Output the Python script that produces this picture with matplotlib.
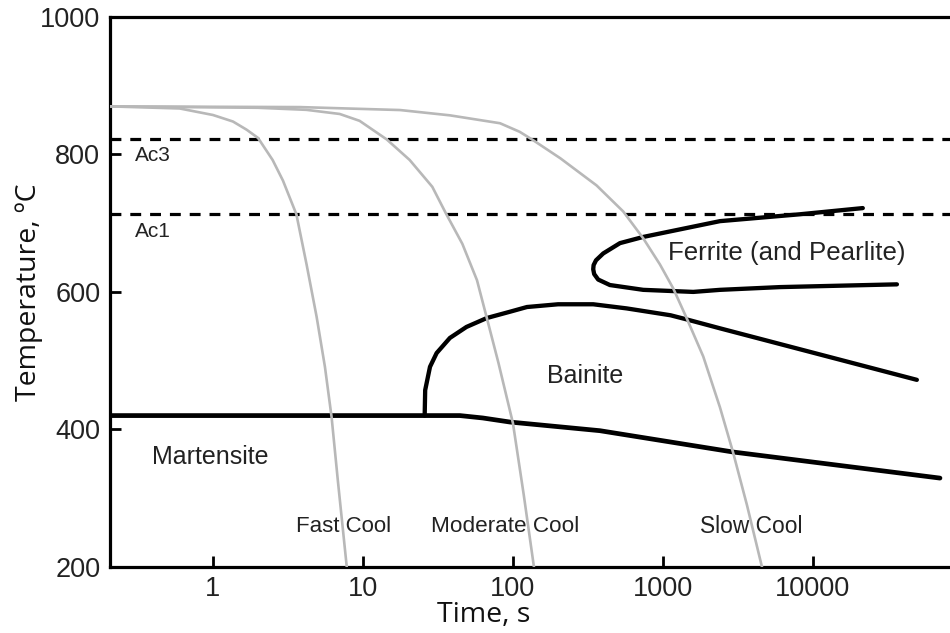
import matplotlib
matplotlib.use("Agg")
import matplotlib.pyplot as plt

# critical temperatures
ac3 = 822
ac1 = 713

# martensite start line + lower bainite boundary (time s, temperature C)
ms_t = [0.206, 25.9, 44.3, 63, 95.5, 380, 2930, 70300]
ms_T = [420, 420, 420, 416.5, 410.6, 398, 367, 329]

# bainite nose (upper boundary)
bain_t = [25.8, 26.0, 28, 31, 38, 49, 67, 95, 124, 200, 343, 573, 1124, 1438, 2400, 49300]
bain_T = [420, 457, 491, 511, 533, 549, 562, 571, 578, 582, 582, 576, 566, 560, 547, 472]

# ferrite / pearlite C-curve
fer_t = [21500, 8200, 2400, 1593, 739, 517, 400, 358, 345, 343, 348, 370, 443, 739, 1593, 2400, 6030, 36300]
fer_T = [722, 713, 703, 695, 680, 671, 656, 646, 639, 633, 626, 618, 610, 603, 600, 603, 607, 611]

# cooling curves
fast_t = [0.206, 0.6, 1.0, 1.36, 1.68, 2.0, 2.5, 2.93, 3.6, 4.21, 4.91, 5.58, 6.18, 6.8, 7.8]
fast_T = [870, 867, 857.5, 848, 836, 824, 792, 762, 713, 640, 564, 491, 418, 326, 200]

mod_t = [0.206, 2.0, 4.2, 7.0, 9.5, 14.4, 20.5, 29, 36, 46, 57.6, 67, 80, 100, 118, 138]
mod_T = [870, 868, 865, 859, 849, 822, 792, 753, 713, 670, 617, 562, 497, 409, 305, 200]

slow_t = [0.206, 3.8, 17.7, 38, 82, 111, 136, 207, 361, 544, 739, 955, 1172, 1438, 1857, 2400, 2930, 3630, 4570]
slow_T = [870, 869, 864.7, 857, 845.5, 833, 821, 794.5, 755, 717, 678, 640, 605, 562, 506, 432, 367, 290, 200]

x_ticks = [1, 10, 100, 1000, 10000]
y_ticks = [200, 400, 600, 800, 1000]

fig = plt.figure(figsize=(9.5, 6.33), dpi=100)
ax = fig.add_axes([0.1158, 0.1047, 0.8842, 0.8683])
ax.set_xscale("log")
ax.set_xlim(0.206, 82000)
ax.set_ylim(200, 1000)

gray = "#b8b8b8"
ax.axhline(ac3, color="black", lw=2.3, dashes=(3.4, 2.8), zorder=2)
ax.axhline(ac1, color="black", lw=2.3, dashes=(3.4, 2.8), zorder=2)

ax.plot(ms_t, ms_T, color="black", lw=3.4, solid_joinstyle="round", solid_capstyle="round", zorder=3)
ax.plot(bain_t, bain_T, color="black", lw=3.1, solid_joinstyle="round", solid_capstyle="round", zorder=3)
ax.plot(fer_t, fer_T, color="black", lw=3.1, solid_joinstyle="round", solid_capstyle="round", zorder=3)

for t, T in ((fast_t, fast_T), (mod_t, mod_T), (slow_t, slow_T)):
    ax.plot(t, T, color=gray, lw=1.9, solid_joinstyle="round", zorder=4)

lab = dict(family="Liberation Sans", color="#222222")
ax.text(0.302, 799, "Ac3", fontsize=15, va="center", ha="left", **lab)
ax.text(0.302, 688, "Ac1", fontsize=15, va="center", ha="left", **lab)
ax.text(0.392, 360, "Martensite", fontsize=18, va="center", ha="left", **lab)
ax.text(302, 478, "Bainite", fontsize=18, va="center", ha="center", **lab)
ax.text(6660, 657, "Ferrite (and Pearlite)", fontsize=18.6, va="center", ha="center", **lab)
ax.text(7.41, 258, "Fast Cool", fontsize=16, va="center", ha="center", **lab)
ax.text(88.4, 258, "Moderate Cool", fontsize=16.2, va="center", ha="center", **lab)
ax.text(3900, 258, "Slow Cool", fontsize=16.4, va="center", ha="center", **lab)

ax.set_xticks(x_ticks)
ax.set_xticklabels([str(v) for v in x_ticks])
ax.set_yticks(y_ticks)
ax.set_yticklabels([str(v) for v in y_ticks])
ax.minorticks_off()
ax.tick_params(direction="in", length=8, width=2, labelsize=19.5, pad=7, colors="black")
for lbl in ax.get_xticklabels() + ax.get_yticklabels():
    lbl.set_family("Liberation Sans")
    lbl.set_color("#222222")

for side in ("left", "bottom", "top"):
    ax.spines[side].set_linewidth(2.3)
ax.spines["right"].set_visible(False)

ax.set_xlabel("Time, s", fontsize=20.5, family="Open Sans", color="#111111")
ax.set_ylabel("Temperature, \u00baC", fontsize=20.5, family="Open Sans", color="#111111")
ax.xaxis.set_label_coords(0.445, -0.062)
ax.yaxis.set_label_coords(-0.08, 0.5)

fig.savefig("out.png", dpi=100)
